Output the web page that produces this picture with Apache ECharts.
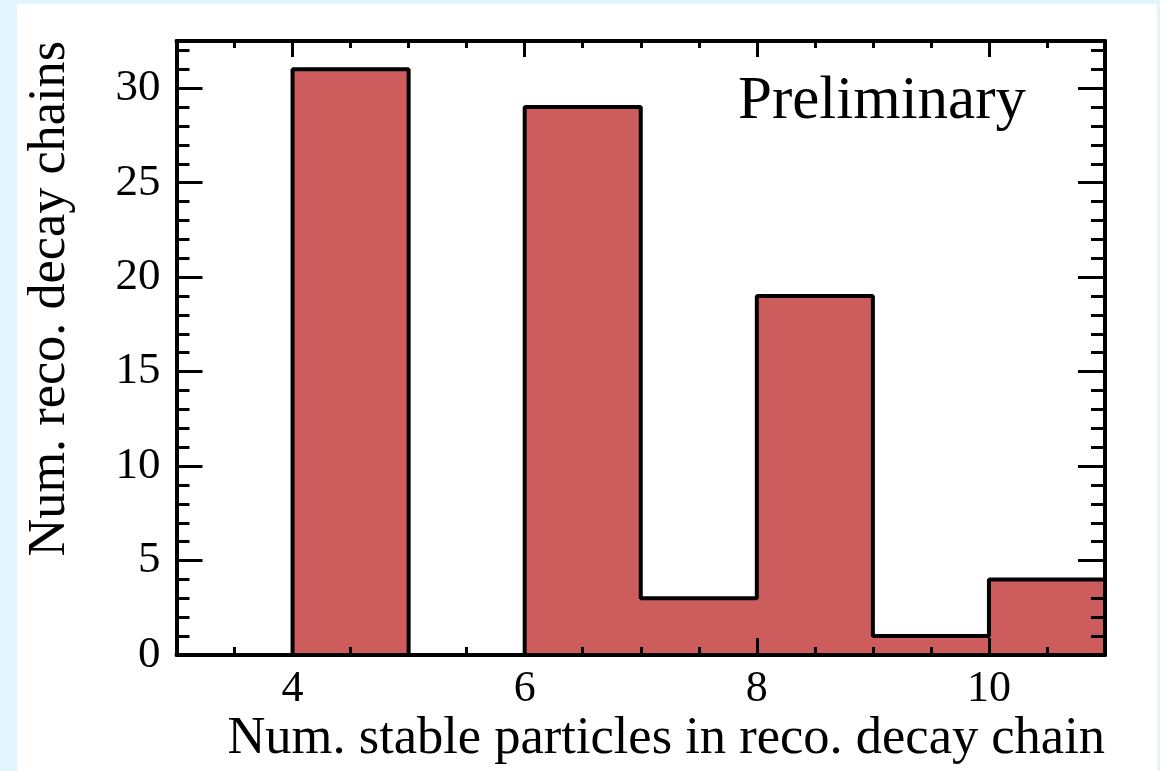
<!DOCTYPE html>
<html>
<head>
<meta charset="utf-8">
<script src="https://cdn.jsdelivr.net/npm/echarts@6/dist/echarts.min.js"></script>
<style>
  html, body { margin: 0; padding: 0; background: #e3f4fc; }
  #panel { position: absolute; left: 17px; top: 4px; width: 1140px; height: 767px; background: #fff; }
  #chart { position: absolute; left: 0; top: 0; width: 1160px; height: 771px; }
</style>
</head>
<body>
<div id="panel"></div>
<div id="chart"></div>
<script>
// histogram bins (lower edges + last upper edge) and counts
const binEdges = [3, 4, 5, 6, 7, 8, 9, 10, 11]
const counts = [0, 31, 0, 29, 3, 19, 1, 4]
const xLabelTicks = [4, 6, 8, 10]
const yLabelTicks = [0, 5, 10, 15, 20, 25, 30]
const xTitle = 'Num. stable particles in reco. decay chain'
const yTitle = 'Num. reco. decay chains'
const tag = 'Preliminary'

const font = 'Liberation Serif'
const black = '#000'

// step points: each count held from its lower edge to the next edge
const stepData = binEdges.map((edge, i) => [edge, i < counts.length ? counts[i] : counts[counts.length - 1]])

const line = { show: true, onZero: false, lineStyle: { color: black, width: 4 } }
const noLine = { show: false, onZero: false }

function xAxis (position, showLine, tick) {
  return Object.assign({
    type: 'value',
    position: position,
    min: 3,
    max: 11,
    z: 10,
    axisLine: showLine ? line : noLine,
    splitLine: { show: false },
    axisLabel: { show: false }
  }, tick)
}

function yAxis (position, showLine, tick) {
  return Object.assign({
    type: 'value',
    position: position,
    min: 0,
    max: 32.5,
    z: 10,
    axisLine: showLine ? line : noLine,
    splitLine: { show: false },
    axisLabel: { show: false }
  }, tick)
}

const minorX = (len) => ({
  interval: 0.5,
  axisTick: { show: true, inside: true, length: len, lineStyle: { color: black, width: 3 } }
})
const majorX = (len, labels) => ({
  interval: 1,
  axisTick: { show: true, inside: true, length: len, customValues: xLabelTicks, lineStyle: { color: black, width: 3 } },
  axisLabel: labels
    ? { show: true, customValues: xLabelTicks, margin: 12, color: black, fontFamily: font, fontSize: 44 }
    : { show: false }
})
const minorY = (len) => ({
  interval: 1,
  axisTick: { show: true, inside: true, length: len, lineStyle: { color: black, width: 3 } }
})
const majorY = (len, labels) => ({
  interval: 5,
  axisTick: { show: true, inside: true, length: len, customValues: yLabelTicks, lineStyle: { color: black, width: 3 } },
  axisLabel: labels
    ? { show: true, customValues: yLabelTicks, margin: 16, color: black, fontFamily: font, fontSize: 45 }
    : { show: false }
})

const chart = echarts.init(document.getElementById('chart'))
chart.setOption({
  animation: false,
  backgroundColor: 'transparent',
  grid: { left: 176.5, top: 41, right: 55, bottom: 116, containLabel: false },
  xAxis: [
    xAxis('bottom', true, minorX(8)),
    xAxis('bottom', false, majorX(17, true)),
    xAxis('top', true, minorX(7)),
    xAxis('top', false, majorX(16, false))
  ],
  yAxis: [
    yAxis('left', true, majorY(26, true)),
    yAxis('left', false, minorY(13)),
    yAxis('right', true, majorY(27, false)),
    yAxis('right', false, minorY(14))
  ],
  series: [
    {
      type: 'line',
      xAxisIndex: 0,
      yAxisIndex: 0,
      step: 'end',
      symbol: 'none',
      data: stepData,
      lineStyle: { color: black, width: 4 },
      areaStyle: { color: '#cd5c5c', opacity: 1 },
      z: 2
    }
  ],
  graphic: [
    {
      type: 'text',
      x: 1105,
      y: 766,
      style: { text: xTitle, align: 'right', verticalAlign: 'bottom', fill: black, font: '52.5px "' + font + '"' }
    },
    {
      type: 'text',
      x: 76,
      y: 41,
      rotation: Math.PI / 2,
      style: { text: yTitle, align: 'right', verticalAlign: 'bottom', fill: black, font: '52.3px "' + font + '"' }
    },
    {
      type: 'text',
      x: 738,
      y: 132,
      style: { text: tag, align: 'left', verticalAlign: 'bottom', fill: black, font: '61px "' + font + '"' }
    }
  ]
})
</script>
</body>
</html>
